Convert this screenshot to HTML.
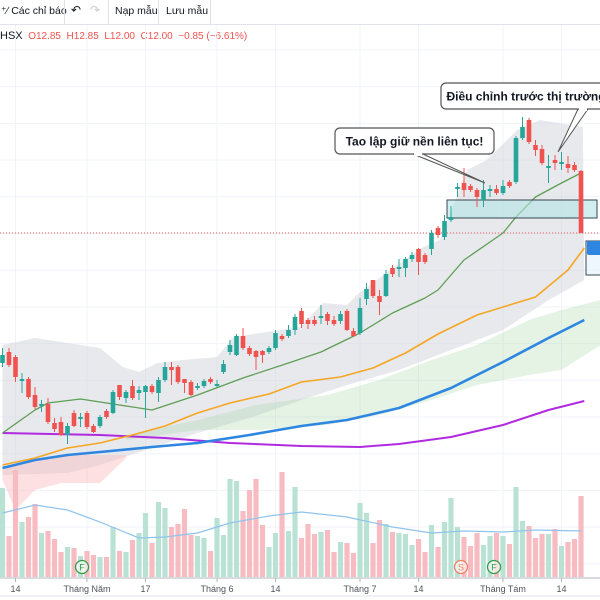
<!DOCTYPE html>
<html><head><meta charset="utf-8">
<style>
html,body{margin:0;padding:0;background:#fff;}
body{width:600px;height:600px;overflow:hidden;position:relative;font-family:"Liberation Sans",sans-serif;}
#toolbar{position:absolute;left:0;top:0;width:600px;height:24px;border-bottom:1px solid #e0e3eb;font-size:10.5px;color:#131722;}
.tb{position:absolute;top:5px;}
.sep{position:absolute;top:0;width:1px;height:24px;background:#e0e3eb;}
#legend{position:absolute;left:0;top:30px;font-size:10px;white-space:nowrap;}
</style></head>
<body>
<div id="toolbar">
  <span class="tb" style="left:1px">⁺∕ Các chỉ báo</span>
  <div class="sep" style="left:64px"></div>
  <span class="tb" style="left:71px;font-size:12px;top:3px">↶</span>
  <span class="tb" style="left:90px;font-size:12px;top:3px;color:#c8cad0">↷</span>
  <div class="sep" style="left:108px"></div>
  <span class="tb" style="left:115px">Nạp mẫu</span>
  <div class="sep" style="left:158px"></div>
  <span class="tb" style="left:166px">Lưu mẫu</span>
  <div class="sep" style="left:210px"></div>
</div>
<div id="legend"><span style="color:#131722;font-size:11px">HSX</span>&nbsp; <span style="color:#ef5350">O12.85 &nbsp;H12.85 &nbsp;L12.00 &nbsp;C12.00 &nbsp;−0.85 (−6.61%)</span></div>
<svg id="chart" width="600" height="600" style="position:absolute;left:0;top:0"></svg>
<script>
const opens=[10.70,10.81,10.76,10.52,10.54,10.38,10.27,10.29,10.10,10.11,9.98,10.20,10.14,10.20,10.07,10.07,10.22,10.20,10.48,10.35,10.47,10.40,10.41,10.47,10.40,10.53,10.66,10.66,10.54,10.51,10.45,10.47,10.54,10.47,10.61,10.81,10.78,10.97,10.85,10.82,10.82,10.81,10.85,10.97,10.97,11.03,11.22,11.13,11.13,11.15,11.19,11.13,11.12,11.22,11.02,11.00,11.34,11.53,11.37,11.37,11.65,11.64,11.65,11.74,11.84,11.78,11.84,12.05,11.96,12.13,12.44,12.50,12.47,12.43,12.33,12.42,12.44,12.40,12.51,12.51,12.95,13.13,12.88,12.84,12.65,12.73,12.69,12.69,12.68,12.62];
const highs=[10.85,10.85,10.78,10.60,10.56,10.46,10.33,10.35,10.15,10.16,10.10,10.23,10.20,10.22,10.09,10.18,10.24,10.43,10.48,10.43,10.53,10.47,10.48,10.49,10.56,10.71,10.71,10.68,10.54,10.53,10.50,10.54,10.56,10.53,10.73,10.93,10.99,11.05,10.87,10.83,10.83,10.87,11.03,10.99,11.08,11.19,11.25,11.15,11.17,11.28,11.21,11.17,11.22,11.24,11.05,11.35,11.50,11.53,11.43,11.63,11.68,11.74,11.76,11.81,11.85,11.80,12.03,12.07,12.18,12.27,12.50,12.65,12.49,12.45,12.53,12.48,12.48,12.53,12.53,12.97,13.16,13.15,12.93,12.88,12.78,12.78,12.81,12.77,12.71,12.63];
const lows=[10.66,10.66,10.51,10.40,10.34,10.24,10.21,10.09,10.01,9.97,9.89,10.06,10.06,10.04,10.00,10.05,10.14,10.19,10.33,10.30,10.33,10.33,10.15,10.39,10.31,10.51,10.48,10.49,10.40,10.37,10.43,10.45,10.49,10.45,10.59,10.78,10.77,10.83,10.77,10.63,10.70,10.79,10.83,10.92,10.95,10.98,11.05,11.04,11.07,11.09,11.08,11.07,11.09,11.02,10.96,10.98,11.28,11.35,11.18,11.36,11.56,11.56,11.56,11.71,11.58,11.69,11.78,11.95,11.93,12.11,12.36,12.36,12.41,12.26,12.26,12.36,12.38,12.38,12.45,12.49,12.93,12.89,12.77,12.68,12.50,12.63,12.63,12.60,12.61,12.00];
const closes=[10.78,10.68,10.56,10.54,10.36,10.26,10.29,10.11,10.04,9.98,10.07,10.07,10.16,10.06,10.01,10.16,10.16,10.41,10.36,10.41,10.35,10.43,10.47,10.41,10.53,10.66,10.63,10.51,10.50,10.38,10.47,10.52,10.51,10.49,10.69,10.88,10.97,10.85,10.79,10.76,10.78,10.85,11.00,10.94,11.03,11.16,11.09,11.09,11.09,11.17,11.12,11.09,11.19,11.03,10.97,11.25,11.44,11.37,11.31,11.59,11.59,11.66,11.74,11.78,11.71,11.71,12.00,11.98,12.12,12.16,12.46,12.43,12.43,12.36,12.43,12.44,12.40,12.47,12.47,12.95,13.06,12.91,12.83,12.70,12.67,12.70,12.71,12.65,12.63,12.00];
const volumes=[89,41,107,55,60,73,44,46,38,25,30,29,21,26,22,20,20,50,26,25,37,44,64,34,75,69,50,53,68,42,41,39,26,59,42,98,96,66,87,98,52,30,44,105,46,90,39,53,43,45,47,25,35,34,24,74,64,34,57,53,45,44,43,32,38,25,52,30,55,79,50,40,31,44,32,41,44,41,33,90,56,51,39,43,43,48,31,35,38,81];
const ma20Idx=[0,5,7,12,17,23,30,37,44,49,55,60,65,67,71,77,79,82,86,89];
const ma20Val=[10.00,10.23,10.30,10.34,10.29,10.23,10.38,10.55,10.70,10.81,11.00,11.20,11.35,11.43,11.73,12.00,12.16,12.36,12.50,12.60];
const ma50Idx=[0,5,10,15,20,25,30,35,41,46,52,57,62,67,73,78,82,87,89.5];
const ma50Val=[9.68,9.75,9.85,9.90,9.98,10.07,10.20,10.30,10.39,10.51,10.56,10.65,10.80,10.99,11.18,11.28,11.36,11.63,11.85];
const ma100Idx=[0,5,10,15,23,30,38,46,53,61,69,77,84,89.5];
const ma100Val=[9.65,9.73,9.78,9.81,9.86,9.90,9.98,10.07,10.13,10.25,10.45,10.71,10.95,11.13];
const ma200Idx=[0,15,25,35,46,55,61,69,77,84,89.5];
const ma200Val=[10.00,9.98,9.95,9.90,9.87,9.86,9.89,9.96,10.08,10.23,10.32];
const bbUpIdx=[0,5,10,15,18.5,21,23.8,27.8,33,35.5,40.7,45.8,49.3,53,54.5,59.6,64.7,67.3,71.5,74.5,79.2,82.7,89.3];
const bbUpVal=[10.88,10.95,10.90,10.85,10.66,10.61,10.70,10.73,10.76,10.96,11.01,11.06,11.30,11.28,11.38,11.63,11.86,11.93,12.63,12.73,13.03,13.13,13.06];
const bbLoIdx=[0,10,15,23,30,38,46,53,61,69,77,84,89.5];
const bbLoVal=[9.58,9.60,9.68,9.85,10.00,10.15,10.33,10.48,10.63,10.83,11.03,11.33,11.53];
const cloudGIdx=[19,30,39,50,58,66,73,81,86,92];
const cloudGTop=[9.98,10.13,10.28,10.38,10.53,10.73,10.88,11.13,11.23,11.33];
const cloudGBot=[9.93,10.03,10.03,10.08,10.18,10.33,10.48,10.58,10.63,10.88];
const cloudRIdx=[0,2,5,9,15,19];
const cloudRTop=[9.63,9.68,9.73,9.78,9.78,9.78];
const cloudRBot=[9.53,9.23,9.43,9.50,9.50,9.75];
const volMaIdx=[0,5,10,15,21,25,30,35,41,46,53,60,66,71,77,82,89];
const volMaVal=[64,72,67,55,39,40,44,54,61,65,60,50,44,46,45,47,46];
const xTickIdx=[2,13,22,33,42,55,64,77,86];
const xTickLabels=["14","Tháng Năm","17","Tháng 6","14","Tháng 7","14","Tháng Tám","14"];
const lastClose=12.00;

const NS="http://www.w3.org/2000/svg";
const svg=document.getElementById('chart');
const xS=i=>2.5+i*6.5;
const yS=p=>1433-p*100;
const vS=v=>577-v;
function mk(tag,attrs,parent){const e=document.createElementNS(NS,tag);for(const k in attrs)e.setAttribute(k,attrs[k]);(parent||svg).appendChild(e);return e;}
function pts(ix,vals,f){return ix.map((i,k)=>xS(i).toFixed(1)+','+f(vals[k]).toFixed(1)).join(' ');}

const grid=mk('g',{});


for(let y=50;y<578;y+=36.7){mk('line',{x1:0,x2:600,y1:y,y2:y,stroke:'#f0f3fa','stroke-width':1},grid);}
xTickIdx.forEach(i=>{mk('line',{x1:xS(i),x2:xS(i),y1:25,y2:578,stroke:'#f0f3fa','stroke-width':1},grid);});

const bb=mk('polygon',{points:pts(bbUpIdx,bbUpVal,yS)+' '+pts(bbLoIdx.slice().reverse(),bbLoVal.slice().reverse(),yS),fill:'#d1d4dc','fill-opacity':0.5});


const cg=mk('polygon',{points:pts(cloudGIdx,cloudGTop,yS)+' '+pts(cloudGIdx.slice().reverse(),cloudGBot.slice().reverse(),yS),fill:'#a5d6a7','fill-opacity':0.3});


const cr=mk('polygon',{points:pts(cloudRIdx,cloudRTop,yS)+' '+pts(cloudRIdx.slice().reverse(),cloudRBot.slice().reverse(),yS),fill:'#f8bbbf','fill-opacity':0.45});



const vg=mk('g',{});


volumes.forEach((v,i)=>{const up=closes[i]>=opens[i];
 const r=mk('rect',{x:xS(i)-2.6,y:vS(v),width:5.2,height:v,fill:up?'#b9e2d4':'#f7bcc1'},vg);
 
 });
const vma=mk('polyline',{points:pts(volMaIdx,volMaVal,vS),fill:'none',stroke:'#90c4ec','stroke-width':1.2});



[[ma200Idx,ma200Val,'#b02bdf',2,'ma200-line'],[ma100Idx,ma100Val,'#2f86e0',2.6,'ma100-line'],[ma50Idx,ma50Val,'#f5a623',1.6,'ma50-line'],[ma20Idx,ma20Val,'#5e9e55',1.3,'ma20-line']].forEach(m=>{
 const l=mk('polyline',{points:pts(m[0],m[1],yS),fill:'none',stroke:m[2],'stroke-width':m[3],'stroke-linejoin':'round'});
 
 });

const zone=mk('rect',{x:447,y:200,width:150,height:18,fill:'#b2e4e4','fill-opacity':0.6,stroke:'#37474f','stroke-width':1});



const lp=mk('line',{x1:0,x2:600,y1:yS(lastClose),y2:yS(lastClose),stroke:'#ef5350','stroke-width':1,'stroke-dasharray':'1,2'});



const cgp=mk('g',{});


opens.forEach((o,i)=>{const c=closes[i];const up=c>=o;const col=up?'#26a69a':'#ef5350';const x=xS(i);
 const g=mk('g',{},cgp);
 
 
 mk('line',{x1:x,x2:x,y1:yS(highs[i]),y2:yS(lows[i]),stroke:col,'stroke-width':1},g);
 const top=yS(Math.max(o,c));const h=Math.max(1.5,Math.abs(yS(o)-yS(c)));
 mk('rect',{x:x-2.3,y:top,width:4.6,height:h,fill:col},g);});

const pl=mk('g',{});


mk('rect',{x:586,y:241,width:16,height:34,fill:'#e3f2fd','fill-opacity':0.6,stroke:'#37474f','stroke-width':1},pl);
mk('rect',{x:587,y:241,width:14,height:14,rx:2,fill:'#2f86e0'},pl);

function callout(name,x,y,w,h,text,tip,base){const g=mk('g',{});
 
 
 mk('polygon',{points:`${base[0]},${base[1]} ${tip[0]},${tip[1]} ${base[0]+10},${base[1]}`,fill:'#fff',stroke:'#555','stroke-width':1},g);
 mk('rect',{x:x,y:y,width:w,height:h,rx:5,fill:'#fff',stroke:'#555','stroke-width':1.2},g);
 mk('rect',{x:base[0]+1,y:base[1]-2,width:8,height:4,fill:'#fff'},g);
 const t=mk('text',{x:x+w/2,y:y+h/2+4.5,'text-anchor':'middle','font-size':12,'font-weight':'bold','fill':'#131722','font-family':'"Liberation Sans",sans-serif'},g);t.textContent=text;}
callout('callout-accumulation',335,128,159,26,'Tao lập giữ nền liên tục!',[485,183],[413,154]);
callout('callout-correction',441,83,170,26,'Điều chỉnh trước thị trường',[558,152],[578,109]);

[[82,'F','#2ea043'],[461,'S','#f07f5f'],[494,'F','#2ea043']].forEach(m=>{const g=mk('g',{});
 
 
 mk('circle',{cx:m[0],cy:567,r:6.5,fill:'#fff','fill-opacity':0.6,stroke:m[2],'stroke-width':1.3},g);
 const t=mk('text',{x:m[0],y:570.5,'text-anchor':'middle','font-size':9,fill:m[2],'font-family':'"Liberation Sans",sans-serif'},g);t.textContent=m[1];});

const ax=mk('g',{});


mk('line',{x1:0,x2:600,y1:578,y2:578,stroke:'#b2b5be','stroke-width':1},ax);
mk('line',{x1:0,x2:600,y1:596,y2:596,stroke:'#e0e3eb','stroke-width':1},ax);
xTickIdx.forEach((i,k)=>{mk('line',{x1:xS(i),x2:xS(i),y1:578,y2:582,stroke:'#b2b5be'},ax);
 const t=mk('text',{x:xS(i),y:592,'text-anchor':'middle','font-size':9,fill:'#50535e','font-family':'"Liberation Sans",sans-serif'},ax);
 
 
 t.textContent=xTickLabels[k];});
</script>
</body></html>
